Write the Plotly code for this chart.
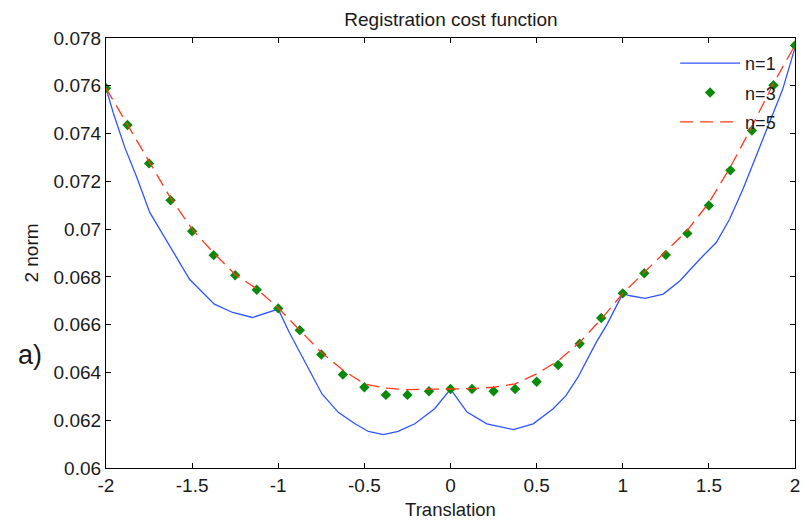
import plotly.graph_objects as go

# n=1 (solid blue), finer sampling
x_n1 = [-2.0, -1.958, -1.89, -1.823, -1.746, -1.63, -1.515, -1.371, -1.265, -1.15, -1.0,
        -0.938, -0.842, -0.746, -0.65, -0.554, -0.477, -0.39, -0.304, -0.207, -0.092, 0.0,
        0.096, 0.211, 0.365, 0.48, 0.596, 0.67, 0.74, 0.846, 0.908, 1.0,
        1.043, 1.13, 1.235, 1.331, 1.447, 1.543, 1.62, 1.697, 1.774, 1.85, 1.928, 2.0]
y_n1 = [0.0759, 0.07487, 0.0734, 0.0722, 0.0707, 0.0693, 0.0679, 0.06686, 0.06651, 0.0663, 0.06665,
        0.0657, 0.0644, 0.0631, 0.06232, 0.06185, 0.06153, 0.0614, 0.06153, 0.06185, 0.06248, 0.0633,
        0.06234, 0.06185, 0.06161, 0.06185, 0.06248, 0.06303, 0.0638, 0.06526, 0.066, 0.0673,
        0.06721, 0.0671, 0.06728, 0.06783, 0.06874, 0.06944, 0.07041, 0.07166, 0.07305, 0.07445, 0.07584, 0.0776]

# n=3 (green diamonds) and n=5 (red dashed) on a 0.125 grid
x_grid = [-2.0, -1.875, -1.75, -1.625, -1.5, -1.375, -1.25, -1.125, -1.0, -0.875, -0.75,
          -0.625, -0.5, -0.375, -0.25, -0.125, 0.0, 0.125, 0.25, 0.375, 0.5, 0.625,
          0.75, 0.875, 1.0, 1.125, 1.25, 1.375, 1.5, 1.625, 1.75, 1.875, 2.0]
y_n3 = [0.0759, 0.07436, 0.07275, 0.07121, 0.06991, 0.06891, 0.06807, 0.06746, 0.06668, 0.06577, 0.06475,
        0.06391, 0.06338, 0.06306, 0.06306, 0.06321, 0.06331, 0.06331, 0.06321, 0.06331, 0.06361, 0.06431,
        0.0652, 0.06628, 0.06731, 0.06815, 0.06892, 0.06982, 0.07099, 0.07246, 0.07413, 0.07602, 0.07769]
y_n5 = [0.0759, 0.07436, 0.0728, 0.0713, 0.07, 0.0690, 0.0681, 0.0675, 0.0667, 0.06578, 0.06484,
        0.0641, 0.06352, 0.06334, 0.06328, 0.0633, 0.0633, 0.06332, 0.06338, 0.06352, 0.06394, 0.06449,
        0.06526, 0.06623, 0.06731, 0.0682, 0.06905, 0.06995, 0.0711, 0.0726, 0.0743, 0.0761, 0.0777]

x_ticks = [-2, -1.5, -1, -0.5, 0, 0.5, 1, 1.5, 2]
x_ticktext = ["-2", "-1.5", "-1", "-0.5", "0", "0.5", "1", "1.5", "2"]
y_ticks = [0.06, 0.062, 0.064, 0.066, 0.068, 0.07, 0.072, 0.074, 0.076, 0.078]
y_ticktext = ["0.06", "0.062", "0.064", "0.066", "0.068", "0.07", "0.072", "0.074", "0.076", "0.078"]

FONT = "Liberation Sans, Arial, sans-serif"
TXT = "#1a1a1a"

fig = go.Figure()
fig.add_trace(go.Scatter(x=x_n1, y=y_n1, mode="lines", name="n=1", legendgroup="a",
                         line=dict(color="#2f55ff", width=1.3)))
fig.add_trace(go.Scatter(x=x_grid, y=y_n3, mode="markers", name="n=3", legendgroup="b",
                         marker=dict(symbol="diamond", color="#0a8a0a", size=8,
                                     line=dict(width=0))))
fig.add_trace(go.Scatter(x=x_grid, y=y_n5, mode="lines", name="n=5", legendgroup="c",
                         line=dict(color="#ff3a1a", width=1.3, dash="13px,7px")))

fig.update_layout(
    width=809, height=526,
    margin=dict(l=106, r=9, t=38, b=57),
    paper_bgcolor="white", plot_bgcolor="white",
    font=dict(family=FONT, size=19, color=TXT),
    title=dict(text="Registration cost function", x=451 / 809, xanchor="center",
               y=1 - 19 / 526, yanchor="middle", yref="container",
               font=dict(size=19, family=FONT, color=TXT)),
    showlegend=True,
    legend=dict(x=0.826, xanchor="left", y=0.984, yanchor="top",
                bgcolor="rgba(0,0,0,0)", borderwidth=0,
                font=dict(size=18, family=FONT, color=TXT),
                itemwidth=60, traceorder="grouped", tracegroupgap=3),
    xaxis=dict(range=[-2, 2], tickvals=x_ticks, ticktext=x_ticktext,
               showgrid=False, zeroline=False, showline=True, linecolor="black", linewidth=1.2,
               mirror="ticks", ticks="inside", ticklen=5, tickcolor="black",
               tickfont=dict(size=19, family=FONT, color=TXT),
               title=dict(text="Translation", standoff=8,
                          font=dict(size=18.5, family=FONT, color=TXT))),
    yaxis=dict(range=[0.06, 0.078], tickvals=y_ticks, ticktext=y_ticktext,
               showgrid=False, zeroline=False, showline=True, linecolor="black", linewidth=1.2,
               mirror="ticks", ticks="inside", ticklen=5, tickcolor="black",
               tickfont=dict(size=19, family=FONT, color=TXT),
               title=dict(text="2 norm", standoff=9,
                          font=dict(size=19, family=FONT, color=TXT))),
    annotations=[dict(text="a)", xref="paper", yref="paper", x=(29 - 106) / 694, y=(469 - 356) / 431,
                      xanchor="center", yanchor="middle", showarrow=False,
                      font=dict(size=27, family=FONT, color=TXT))],
)

fig.write_html("out.html")
